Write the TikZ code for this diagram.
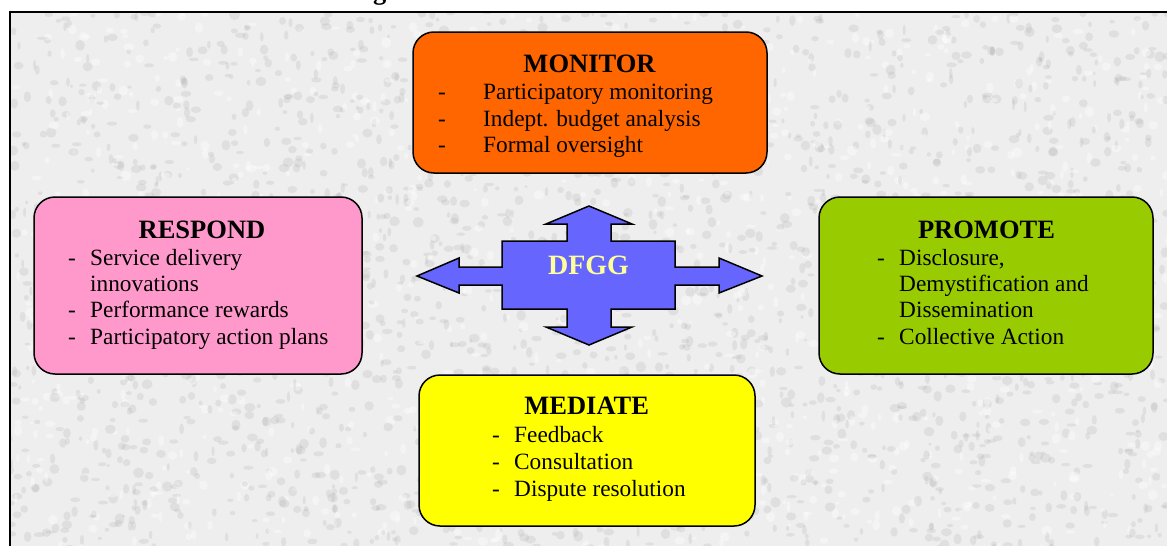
\documentclass[tikz,border=0pt]{standalone}
\usepackage{fontspec}
\setmainfont{Liberation Serif}
\definecolor{bgbase}{RGB}{238,238,238}
\definecolor{speck}{RGB}{165,165,165}
\definecolor{monitorfill}{RGB}{255,102,0}
\definecolor{respondfill}{RGB}{255,153,204}
\definecolor{promotefill}{RGB}{153,204,0}
\definecolor{mediatefill}{RGB}{255,255,0}
\definecolor{hubfill}{RGB}{102,102,255}
\definecolor{hubtext}{RGB}{255,255,153}
\newcommand\bodysize{\fontsize{23.3}{26.5}\selectfont}
\newcommand\titlesize{\fontsize{26.5}{30}\selectfont\bfseries}
\tikzset{
  panel/.style={draw=black, line width=1.5, rounded corners=21, inner sep=0,
                minimum width=#1},
  paneltitle/.style={inner sep=0, anchor=base, font=\titlesize},
  itemtext/.style={inner sep=0, anchor=base west, font=\bodysize},
  itemdash/.style={inner sep=0, anchor=base west, font=\bodysize},
}
\begin{document}
\begin{tikzpicture}[x=1pt,y=-1pt]
\useasboundingbox (0,0) rectangle (1167,546);

% granite-like grey background inside the frame
\begin{scope}
  \clip (9.5,12) rectangle (1167,546);
  \fill[bgbase] (9.5,12) rectangle (1167,546);
  \pgfmathsetseed{4711}
  \foreach \i in {1,...,3200}{
    \pgfmathsetmacro\px{9+1160*rnd}
    \pgfmathsetmacro\py{11+537*rnd}
    \pgfmathsetmacro\rx{1.5+4*rnd}
    \pgfmathsetmacro\ry{1.5+4*rnd}
    \pgfmathsetmacro\pick{rnd}
    \ifdim\pick pt<0.7pt
      \fill[speck,opacity=0.2] (\px,\py) ellipse (\rx pt and \ry pt);
    \else
      \fill[white,opacity=0.4] (\px,\py) ellipse (\rx pt and \ry pt);
    \fi
  }
\end{scope}

% frame
\draw[line width=2] (9.5,546) -- (9.5,12) -- (1167,12);

% descender of the heading line above the frame
\begin{scope}
  \clip (0,0) rectangle (1167,12);
  \node[inner sep=0, anchor=base west, font=\titlesize] (headg) at (373,-1) {g};
\end{scope}

% ---- MONITOR ----
\node[panel=354, minimum height=141, fill=monitorfill] (monitor) at (590,102.5) {};
\node[paneltitle] (monitor-t) at (589.5,72) {MONITOR};
\foreach \t [count=\k] in {Participatory monitoring, Indept. budget analysis, Formal oversight}{
  \node[itemdash] (monitor-d\k) at (438,{99.3+(\k-1)*26.7}) {-};
  \node[itemtext] (monitor-\k) at (483,{99.3+(\k-1)*26.7}) {\t};
}

% ---- RESPOND ----
\node[panel=328, minimum height=177, fill=respondfill] (respond) at (198,285.5) {};
\node[paneltitle] (respond-t) at (202,238) {RESPOND};
\foreach \t [count=\k] in {Service delivery, Performance rewards, Participatory action plans}{
  \pgfmathsetmacro\yy{\k==1 ? 265 : 265+\k*26.4}
  \node[itemdash] (respond-d\k) at (68,\yy) {-};
  \node[itemtext] (respond-\k) at (90,\yy) {\t};
}
\node[itemtext] (respond-1b) at (90,291.4) {innovations};

% ---- PROMOTE ----
\node[panel=334, minimum height=177, fill=promotefill] (promote) at (986,285.5) {};
\node[paneltitle] (promote-t) at (986.5,238) {PROMOTE};
\node[itemdash] (promote-d1) at (877,265) {-};
\node[itemtext] (promote-1) at (899,265) {Disclosure,};
\node[itemtext] (promote-1b) at (899,291.4) {Demystification and};
\node[itemtext] (promote-1c) at (899,317.8) {Dissemination};
\node[itemdash] (promote-d2) at (877,344.2) {-};
\node[itemtext] (promote-2) at (899,344.2) {Collective Action};

% ---- MEDIATE ----
\node[panel=336, minimum height=151, fill=mediatefill] (mediate) at (587,450.5) {};
\node[paneltitle] (mediate-t) at (586.7,414) {MEDIATE};
\foreach \t [count=\k] in {Feedback, Consultation, Dispute resolution}{
  \node[itemdash] (mediate-d\k) at (492,{442+(\k-1)*27}) {-};
  \node[itemtext] (mediate-\k) at (514,{442+(\k-1)*27}) {\t};
}

% ---- central four-way arrow ----
\draw[line width=1.5, line join=miter, fill=hubfill]
  (589,206) -- (632,224) -- (611,224) -- (611,241) -- (675,241) -- (675,267)
  -- (719,267) -- (719,258) -- (762,276) -- (719,293) -- (719,285) -- (675,285)
  -- (675,309) -- (611,309) -- (611,327) -- (632,327) -- (589,345) -- (546,327)
  -- (567,327) -- (567,309) -- (502,309) -- (502,285) -- (459,285) -- (459,293)
  -- (417,276) -- (459,258) -- (459,267) -- (502,267) -- (502,241) -- (567,241)
  -- (567,224) -- (546,224) -- cycle;
\node[inner sep=0, anchor=base, font=\fontsize{28}{32}\selectfont\bfseries,
      text=hubtext] (hub) at (588.5,274) {DFGG};
\end{tikzpicture}
\end{document}
